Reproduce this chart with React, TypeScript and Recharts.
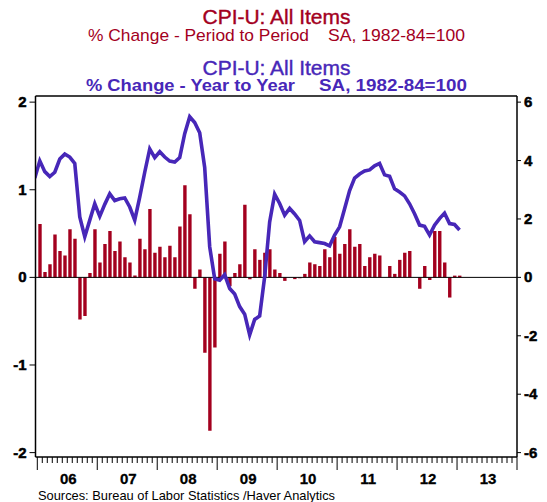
import React from 'react';
import { ComposedChart, Bar, Line, XAxis, YAxis, ReferenceLine } from 'recharts';

// Month index 0 = Jan 2006 ... 84 = Jan 2013
const YEAR_LABELS = ['06', '07', '08', '09', '10', '11', '12', '13'];
const LEFT_TICKS = [-2, -1, 0, 1, 2];
const RIGHT_TICKS = [-6, -4, -2, 0, 2, 4, 6];

// CPI-U % change, period to period (bars, left axis), Jan 2006 - Jan 2013
const momChange = [
  0.61, 0.06, 0.15, 0.49, 0.30, 0.25, 0.55, 0.44, -0.48, -0.44, 0.05, 0.55,
  0.17, 0.38, 0.53, 0.30, 0.41, 0.23, 0.17, 0.02, 0.44, 0.32, 0.78, 0.28,
  0.35, 0.23, 0.36, 0.23, 0.58, 1.05, 0.72, -0.13, 0.09, -0.86, -1.75, -0.80,
  0.27, 0.41, -0.10, 0.05, 0.15, 0.83, -0.02, 0.32, 0.20, 0.28, 0.32, 0.09,
  0.05, -0.04, 0.0, -0.02, -0.01, 0.04, 0.17, 0.15, 0.13, 0.32, 0.23, 0.46,
  0.27, 0.38, 0.55, 0.35, 0.38, 0.13, 0.23, 0.27, 0.25, 0.0, 0.13, 0.04,
  0.20, 0.28, 0.30, 0.0, -0.13, 0.13, -0.03, 0.53, 0.53, 0.17, -0.23, 0.02,
  0.02,
];

// CPI-U % change, year to year (line, right axis), Dec 2005 - Jan 2013
const yoyStartIndex = -1;
const yoyChange = [
  3.4,
  3.99, 3.62, 3.45, 3.6, 4.05, 4.22, 4.12, 3.9, 2.07, 1.39, 1.96, 2.52,
  2.09, 2.5, 2.86, 2.63, 2.69, 2.72, 2.41, 1.96, 2.75, 3.6, 4.4, 4.1,
  4.3, 4.12, 3.98, 3.95, 4.1, 4.92, 5.5, 5.3, 4.95, 3.76, 1.05, -0.05,
  -0.1, 0.09, -0.38, -0.57, -1.0, -1.26, -1.97, -1.44, -1.32, 0.02, 1.9, 2.85,
  2.53, 2.13, 2.36, 2.17, 1.95, 1.22, 1.42, 1.22, 1.19, 1.16, 1.08, 1.45,
  1.73, 2.35, 2.97, 3.4, 3.54, 3.64, 3.68, 3.82, 3.9, 3.51, 3.46, 3.03,
  2.92, 2.79, 2.52, 2.18, 1.79, 1.75, 1.45, 1.79, 2.01, 2.2, 1.84, 1.81,
  1.62,
];

const RED = '#A3001E';
const BLUE = '#4727B8';
const FONT = "'Liberation Sans', Arial, Helvetica, sans-serif";

const data = yoyChange.map((v, k) => {
  const i = k + yoyStartIndex;
  return { i, yoy: v, mom: i >= 0 && i < momChange.length ? momChange[i] : null };
});

const MONTHS_SHOWN = YEAR_LABELS.length * 12;
const xTicks: number[] = [];
for (let k = 0; k <= MONTHS_SHOWN; k++) xTicks.push(k - 0.5);

const XTick = (props: any) => {
  const { x, y, payload } = props;
  const v = payload.value as number;
  const b = Math.round(v + 0.5);
  const major = b % 12 === 0;
  const isCenter = b % 12 === 6;
  const yearIdx = Math.floor(b / 12);
  return (
    <g>
      <line x1={x} x2={x} y1={y} y2={y + (major ? 13 : 6)} stroke="#000" strokeWidth={1} />
      {isCenter && yearIdx < YEAR_LABELS.length ? (
        <text x={x + 1} y={y + 26.5} textAnchor="middle" fontSize={15} fontWeight="bold" fontFamily={FONT} fill="#000" stroke="#000" strokeWidth={0.3}>
          {YEAR_LABELS[yearIdx]}
        </text>
      ) : null}
    </g>
  );
};

const YTick = (props: any) => {
  const { x, y, payload, textAnchor } = props;
  return (
    <text x={x} y={y + 5} textAnchor={textAnchor} fontSize={15} fontWeight="bold" fontFamily={FONT} fill="#000" stroke="#000" strokeWidth={0.5}>
      {payload.value}
    </text>
  );
};

export default function App() {
  return (
    <div style={{ position: 'absolute', left: 0, top: 0, width: 547, height: 502, background: '#fff' }}>
      <ComposedChart
        width={547}
        height={502}
        data={data}
        margin={{ top: 96, right: 0, bottom: 15, left: 0 }}
      >
        <XAxis
          dataKey="i"
          type="number"
          domain={[-0.86, MONTHS_SHOWN - 0.5]}
          allowDataOverflow
          ticks={xTicks}
          interval={0}
          tickLine={false}
          tickSize={0}
          tickMargin={0}
          axisLine={{ stroke: '#000', strokeWidth: 1.5 }}
          tick={(p: any) => <XTick {...p} />}
          height={30}
        />
        <YAxis
          yAxisId="l"
          domain={[-2.05, 2.07]}
          allowDataOverflow
          ticks={LEFT_TICKS}
          interval={0}
          width={35.5}
          tickSize={6}
          tickMargin={3}
          tick={(p: any) => <YTick {...p} />}
          tickLine={{ stroke: '#000' }}
          axisLine={{ stroke: '#000', strokeWidth: 1.5 }}
        />
        <YAxis
          yAxisId="r"
          orientation="right"
          domain={[-6.15, 6.21]}
          allowDataOverflow
          ticks={RIGHT_TICKS}
          interval={0}
          width={30}
          tickSize={4}
          tickMargin={3}
          tick={(p: any) => <YTick {...p} />}
          tickLine={{ stroke: '#000' }}
          axisLine={{ stroke: '#000', strokeWidth: 1.5 }}
        />
        <ReferenceLine yAxisId="l" y={2.07} stroke="#000" strokeWidth={1.5} />
        <Bar yAxisId="l" dataKey="mom" fill={RED} barSize={3.4} isAnimationActive={false} />
        <ReferenceLine yAxisId="l" y={0} stroke="#000" strokeWidth={1} />
        <Line
          yAxisId="r"
          dataKey="yoy"
          type="linear"
          stroke={BLUE}
          strokeWidth={3.6}
          dot={false}
          activeDot={false}
          isAnimationActive={false}
        />
      </ComposedChart>
      <svg
        width={547}
        height={502}
        style={{ position: 'absolute', left: 0, top: 0, pointerEvents: 'none' }}
      >
        <text x={276.5} y={23.5} textAnchor="middle" fontSize={21} fontFamily={FONT} fill={RED} stroke={RED} strokeWidth={0.4} textLength={148} lengthAdjust="spacingAndGlyphs">
          CPI-U: All Items
        </text>
        <text x={88} y={40.5} fontSize={17} fontFamily={FONT} fill={RED} textLength={221} lengthAdjust="spacingAndGlyphs">
          % Change - Period to Period
        </text>
        <text x={328} y={40.5} fontSize={17} fontFamily={FONT} fill={RED} textLength={137} lengthAdjust="spacingAndGlyphs">
          SA, 1982-84=100
        </text>
        <text x={276.5} y={74.5} textAnchor="middle" fontSize={21} fontFamily={FONT} fill={BLUE} stroke={BLUE} strokeWidth={0.4} textLength={148} lengthAdjust="spacingAndGlyphs">
          CPI-U: All Items
        </text>
        <text x={86} y={91} fontSize={17} fontWeight="bold" fontFamily={FONT} fill={BLUE} textLength={209} lengthAdjust="spacingAndGlyphs">
          % Change - Year to Year
        </text>
        <text x={319} y={91} fontSize={17} fontWeight="bold" fontFamily={FONT} fill={BLUE} textLength={148} lengthAdjust="spacingAndGlyphs">
          SA, 1982-84=100
        </text>
        <text x={38} y={500} fontSize={13} fontFamily={FONT} fill="#000" textLength={297} lengthAdjust="spacingAndGlyphs">
          Sources:  Bureau of Labor Statistics /Haver Analytics
        </text>
      </svg>
    </div>
  );
}
